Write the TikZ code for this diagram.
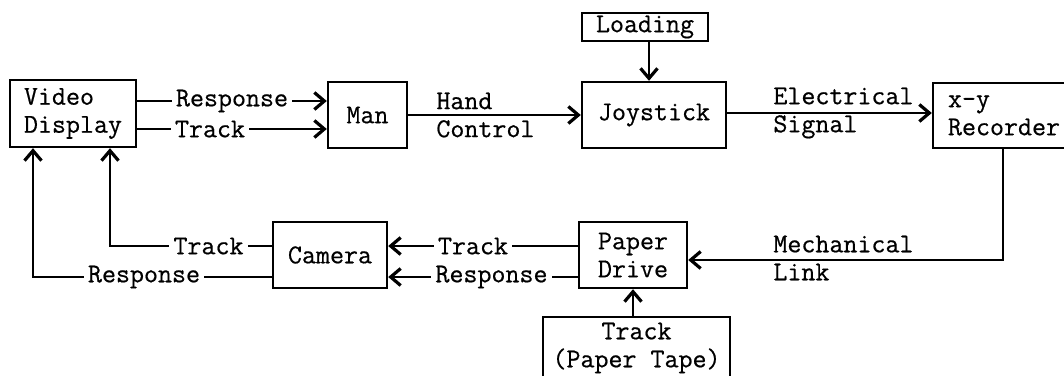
\documentclass[tikz,border=0pt]{standalone}
\usepackage{fontspec}
\newfontfamily\tw[FakeBold=0.6]{Latin Modern Mono}
\usetikzlibrary{arrows.meta}
\begin{document}
\begin{tikzpicture}[x=0.5pt,y=-0.5pt,
  every node/.style={font=\tw\fontsize{13.6}{14}\selectfont},
  blk/.style={draw, line width=1.2pt, inner sep=0pt, align=center},
  lab/.style={fill=white, inner xsep=2pt, inner ysep=1pt, align=left},
  txt/.style={inner sep=0pt, align=left, anchor=west},
  conn/.style={line width=1.4pt},
  arr/.style={conn, -{Straight Barb[length=5pt,width=8.5pt,line width=1.6pt]}}]
\useasboundingbox (0,0) rectangle (1064,375);
\clip (0,0) rectangle (1064,375);
% blocks
\node[blk, minimum width=63pt, minimum height=33.5pt, align=left] (vd) at (73,113.5) {Video\\Display};
\node[blk, minimum width=39.5pt, minimum height=33pt] (man) at (367.5,115) {Man};
\node[blk, minimum width=72pt, minimum height=33pt] (joy) at (654,115) {Joystick};
\node[blk, minimum width=63pt, minimum height=14pt] (load) at (645,27) {Loading};
\node[blk, minimum width=71pt, minimum height=32.5pt, align=left] (rec) at (1004,115.5) {x-y\\Recorder};
\node[blk, minimum width=57pt, minimum height=33pt] (cam) at (330,255) {Camera};
\node[blk, minimum width=54pt, minimum height=33pt] (pd) at (633,255) {Paper\\Drive};
\node[blk, minimum width=93.5pt, minimum height=31pt] (tape) at (636.5,348) {Track\\(Paper Tape)};
% connectors
\draw[arr] (vd.east |- 0,101) -- (man.west |- 0,101);
\draw[arr] (vd.east |- 0,129) -- (man.west |- 0,129);
\draw[arr] (man.east |- 0,115) -- (joy.west |- 0,115);
\draw[arr] (joy.east |- 0,113) -- (rec.west |- 0,113);
\draw[arr] (load.south -| 649,0) -- (joy.north -| 649,0);
\draw[arr] (rec.south -| 1003,0) |- (pd.east |- 0,260);
\draw[arr] (pd.west |- 0,246) -- (cam.east |- 0,246);
\draw[arr] (pd.west |- 0,277) -- (cam.east |- 0,277);
\draw[arr] (tape.north -| 633,0) -- (pd.south -| 633,0);
\draw[arr] (cam.west |- 0,246) -| (vd.south -| 110,0);
\draw[arr] (cam.west |- 0,277) -| (vd.south -| 33,0);
% labels
\node[lab] (lresp1) at (232,101) {Response};
\node[lab] (ltrack1) at (210,129) {Track};
\node[txt] (lhand) at (436,115) {Hand\\Control};
\node[txt] (lelec) at (773,113) {Electrical\\Signal};
\node[txt] (lmech) at (773,258) {Mechanical\\Link};
\node[lab] (ltrack2) at (473,246) {Track};
\node[lab] (lresp2) at (491.5,277) {Response};
\node[lab] (ltrack3) at (208.5,246) {Track};
\node[lab] (lresp3) at (144,277) {Response};
\end{tikzpicture}
\end{document}
